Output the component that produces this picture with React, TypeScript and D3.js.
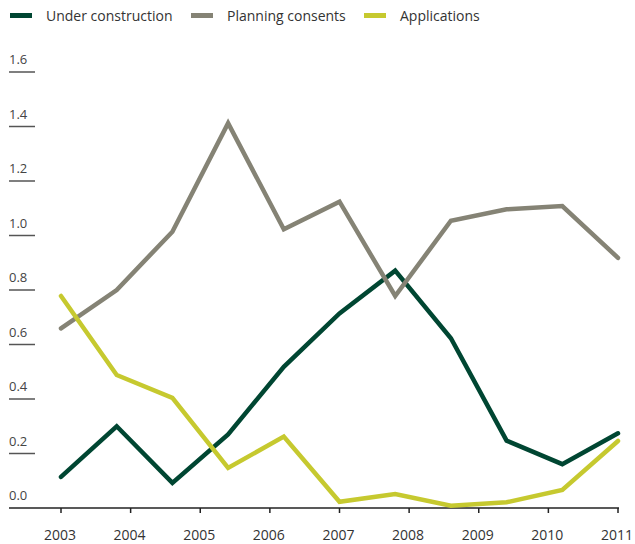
import React from "react";
import * as d3 from "d3";

const years = [2003, 2004, 2005, 2006, 2007, 2008, 2009, 2010, 2011];
const yTicks = [0.0, 0.2, 0.4, 0.6, 0.8, 1.0, 1.2, 1.4, 1.6];
const seriesNames = ["Under construction", "Planning consents", "Applications"];
const seriesColors = ["#004632", "#858375", "#c6c92f"];
const underConstruction = [0.114, 0.3, 0.092, 0.27, 0.518, 0.714, 0.871, 0.623, 0.247, 0.161, 0.274];
const planningConsents = [0.659, 0.8, 1.014, 1.412, 1.023, 1.124, 0.778, 1.054, 1.096, 1.108, 0.918];
const applications = [0.778, 0.488, 0.404, 0.147, 0.262, 0.023, 0.051, 0.008, 0.021, 0.066, 0.246];

const W = 635;
const H = 544;
const FONT = "'Open Sans', 'DejaVu Sans', sans-serif";

export default function App() {
  const x = d3.scaleLinear().domain([2003, 2011]).range([61, 618]);
  const idx = d3.scaleLinear().domain([0, underConstruction.length - 1]).range([2003, 2011]);
  const y = d3.scaleLinear().domain([0, 1.6]).range([508, 72]);
  const line = d3
    .line<number>()
    .x((_, i) => x(idx(i)))
    .y((d) => y(d));
  const allSeries = [underConstruction, planningConsents, applications];
  const legendX = [10, 191, 364];

  return (
    <div style={{ position: "fixed", left: 0, top: 0 }}>
      <svg width={W} height={H} style={{ display: "block", background: "#fff" }}>
        {/* legend */}
        {seriesNames.map((name, i) => (
          <g key={name}>
            <rect x={legendX[i]} y={13} width={22} height={5} fill={seriesColors[i]} />
            <text x={legendX[i] + 36} y={21} fontFamily={FONT} fontSize={14} fill="#333">
              {name}
            </text>
          </g>
        ))}
        {/* y ticks */}
        {yTicks.map((t) => (
          <g key={t}>
            <text x={9} y={y(t) - 8} fontFamily={FONT} fontSize={13} fill="#444">
              {t.toFixed(1)}
            </text>
            {t > 0 && (
              <line x1={9} x2={35} y1={y(t)} y2={y(t)} stroke="#555" strokeWidth={1.5} />
            )}
          </g>
        ))}
        {/* x axis */}
        <line x1={9} x2={619} y1={y(0)} y2={y(0)} stroke="#222" strokeWidth={1.5} />
        {years.map((yr) => (
          <g key={yr}>
            <line x1={x(yr)} x2={x(yr)} y1={y(0)} y2={y(0) + 5} stroke="#222" strokeWidth={1.5} />
            <text x={x(yr) - 1} y={540} textAnchor="middle" fontFamily={FONT} fontSize={14} fill="#333">
              {yr}
            </text>
          </g>
        ))}
        {/* lines */}
        {allSeries.map((s, i) => (
          <path
            key={i}
            d={line(s) || ""}
            fill="none"
            stroke={seriesColors[i]}
            strokeWidth={4.5}
            strokeLinejoin="miter"
            strokeLinecap="round"
          />
        ))}
      </svg>
    </div>
  );
}
